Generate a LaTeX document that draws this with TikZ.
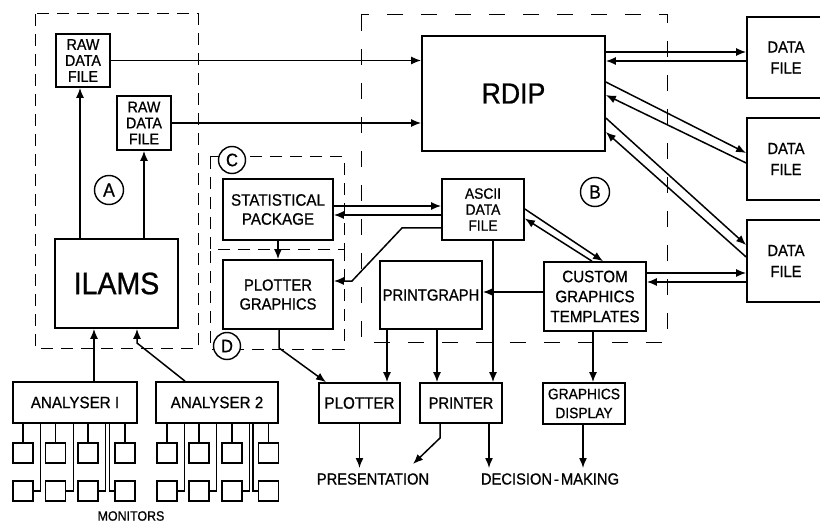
\documentclass[tikz,border=0pt]{standalone}
\usepackage{fontspec}
\setmainfont{Liberation Sans}[FakeStretch=0.92,FakeBold=0.8]
\usetikzlibrary{arrows.meta,calc}
\newcommand{\myfs}[2]{\fontsize{#1}{#2}\selectfont}
\begin{document}
\begin{tikzpicture}[x=1pt,y=-1pt,
  box/.style={draw, line width=1.7pt, inner sep=0pt, align=center},
  arr/.style={line width=1.5pt, -{Latex[length=10pt,width=8pt]}},
  wire/.style={line width=1.3pt},
  mon/.style={draw, line width=1.3pt, minimum size=20pt, inner sep=0pt},
  zone/.style={dash pattern=on 12pt off 8pt, line width=1pt},
  zoneB/.style={dash pattern=on 16pt off 18pt, line width=1pt},
  tag/.style={circle, draw, fill=white, line width=1.4pt, inner sep=0pt, minimum size=29pt, font=\myfs{19}{20}},
  tagsm/.style={tag, minimum size=27pt, font=\myfs{18}{19}},
  lbl/.style={inner sep=0pt, align=center}
]
\useasboundingbox (0,0) rectangle (820,524);
\clip (0,0) rectangle (820,524);

% zones
\draw[zone] (35,14) rectangle (198,348);
\draw[zoneB] (361,15) rectangle (667,342);
\draw[zone] (210,157) rectangle (344,249);
\draw[zone] (344,249) -- (344,349) -- (210,349) -- (210,249);

% nodes
\node[box, minimum width=54pt, minimum height=53pt, font=\myfs{15.5}{16}] (raw1) at (83,60.5) {RAW\\DATA\\FILE};
\node[box, minimum width=54pt, minimum height=54pt, font=\myfs{15.5}{16}] (raw2) at (144,123) {RAW\\DATA\\FILE};
\node[box, minimum width=123pt, minimum height=89pt, font=\myfs{31}{32}] (ilams) at (116.5,283.5) {ILAMS};
\node[box, minimum width=124pt, minimum height=41pt, font=\myfs{16.5}{18}] (an1) at (75,402.5) {ANALYSER I};
\node[box, minimum width=122pt, minimum height=41pt, font=\myfs{16.5}{18}] (an2) at (217,402.5) {ANALYSER 2};
\node[box, minimum width=183pt, minimum height=115pt, font=\myfs{29}{30}] (rdip) at (513.5,93.5) {RDIP};
\node[box, minimum width=78pt, minimum height=81pt, font=\myfs{16}{21}] (df1) at (786,57.5) {DATA\\FILE};
\node[box, minimum width=78pt, minimum height=82pt, font=\myfs{16}{21}] (df2) at (786,159) {DATA\\FILE};
\node[box, minimum width=78pt, minimum height=82pt, font=\myfs{16}{21}] (df3) at (786,261) {DATA\\FILE};
\node[box, minimum width=110pt, minimum height=61pt, font=\myfs{16.5}{19}] (stat) at (278,209.5) {STATISTICAL\\PACKAGE};
\node[box, minimum width=110pt, minimum height=69pt, font=\myfs{16}{19}] (pg) at (278,294.5) {PLOTTER\\GRAPHICS};
\node[box, minimum width=82pt, minimum height=61pt, font=\myfs{15}{16}] (ascii) at (483,209.5) {ASCII\\DATA\\FILE};
\node[box, minimum width=102pt, minimum height=68pt, font=\myfs{16}{18}] (pgraph) at (431,295) {PRINTGRAPH};
\node[box, minimum width=102pt, minimum height=69pt, font=\myfs{16.5}{20}] (custom) at (595,296.5) {CUSTOM\\GRAPHICS\\TEMPLATES};
\node[box, minimum width=81pt, minimum height=40pt, font=\myfs{16.5}{18}] (plotter) at (359.5,403) {PLOTTER};
\node[box, minimum width=82pt, minimum height=40pt, font=\myfs{16}{18}] (printer) at (461,403) {PRINTER};
\node[box, minimum width=82pt, minimum height=41pt, font=\myfs{15}{19}] (gdisp) at (584,403.5) {GRAPHICS\\DISPLAY};
\node[lbl, font=\myfs{16}{18}] (pres) at (373,479) {PRESENTATION};
\node[lbl, font=\myfs{16}{18}] (dec) at (550,479) {DECISION\kern2pt-\kern2pt MAKING};
\node[lbl, font=\myfs{13.5}{14}] (monl) at (131,516) {MONITORS};

\coordinate (pIn1) at (359.5,468);
\coordinate (pIn2) at (413,464);
\coordinate (dIn1) at (489,468);
\coordinate (dIn2) at (583,468);

% tags
\node[tag] (tA) at (109,190) {A};
\node[tag] (tB) at (595,192) {B};
\node[tagsm] (tC) at (232,160) {C};
\node[tagsm] (tD) at (227,346) {D};

% monitors
\foreach \g/\an/\xa/\xb/\xc/\xd in {1/an1/23/55.5/88/125, 2/an2/167/199/232/268.5} {
  \foreach \i/\x in {1/\xa,2/\xb,3/\xc,4/\xd} {
    \node[mon] (m\g t\i) at (\x,453) {};
    \node[mon] (m\g b\i) at (\x,491) {};
    \draw[wire] (m\g t\i.north) -- (m\g t\i.north |- \an.south);
  }
  \foreach \i in {1,2,3} {
    \draw[wire] (m\g b\i.east) -- ++(7,0) coordinate (tmp) -- (tmp |- \an.south);
  }
  \draw[wire] (m\g b4.west) -- ++(-5,0) coordinate (tmp) -- (tmp |- \an.south);
}

% connectors
\draw[arr] (raw1.east) -- (raw1.east -| rdip.west);
\draw[arr] (raw2.east) -- (raw2.east -| rdip.west);
\draw[arr] (ilams.north -| 80,0) -- (raw1.south -| 80,0);
\draw[arr] (ilams.north -| raw2.south) -- (raw2.south);
\draw[arr] (an1.north -| 94,0) -- (ilams.south -| 94,0);
\draw[arr] (an2.north -| 185,0) -- (137,343) -- (ilams.south -| 137,0);

\draw[arr] (rdip.east |- 0,52) -- (df1.west |- 0,52);
\draw[arr] (df1.west |- 0,61) -- (rdip.east |- 0,61);
\draw[arr] (rdip.east |- 0,82) -- (df2.west |- 0,153);
\draw[arr] (df2.west |- 0,163) -- (rdip.east |- 0,95);
\draw[arr] (rdip.east |- 0,118) -- (df3.west |- 0,245);
\draw[arr] (df3.west |- 0,257) -- (rdip.east |- 0,132);
\draw[arr] (custom.east |- 0,273) -- (df3.west |- 0,273);
\draw[arr] (df3.west |- 0,282) -- (custom.east |- 0,282);

\draw[arr] (stat.east |- 0,206) -- (ascii.west |- 0,206);
\draw[arr] (ascii.west |- 0,215) -- (stat.east |- 0,215);
\draw[arr] (ascii.west |- 0,228) -- (402,228) -- (352,281) -- (pg.east |- 0,281);
\draw[arr] (stat.south) -- (pg.north);
\draw[arr] (ascii.east |- 0,209) -- (custom.north -| 603,0);
\draw[arr] (custom.north -| 592,0) -- (ascii.east |- 0,218.5);
\draw[arr] (custom.west |- 0,292) -- (pgraph.east |- 0,292);
\draw[arr] (ascii.south -| 493,0) -- (printer.north -| 493,0);
\draw[arr] (pgraph.south -| 387,0) -- (plotter.north -| 387,0);
\draw[arr] (pgraph.south -| 437,0) -- (printer.north -| 437,0);
\draw[arr] (pg.south -| 279,0) -- (279,348) -- (plotter.north -| 326,0);
\draw[arr] (custom.south -| 593,0) -- (gdisp.north -| 593,0);

\draw[arr] (plotter.south) -- (pIn1);
\draw[arr] (printer.south -| 440,0) -- (440,438) -- (pIn2);
\draw[arr] (printer.south -| 489,0) -- (dIn1);
\draw[arr] (gdisp.south -| 583,0) -- (dIn2);
\end{tikzpicture}
\end{document}
